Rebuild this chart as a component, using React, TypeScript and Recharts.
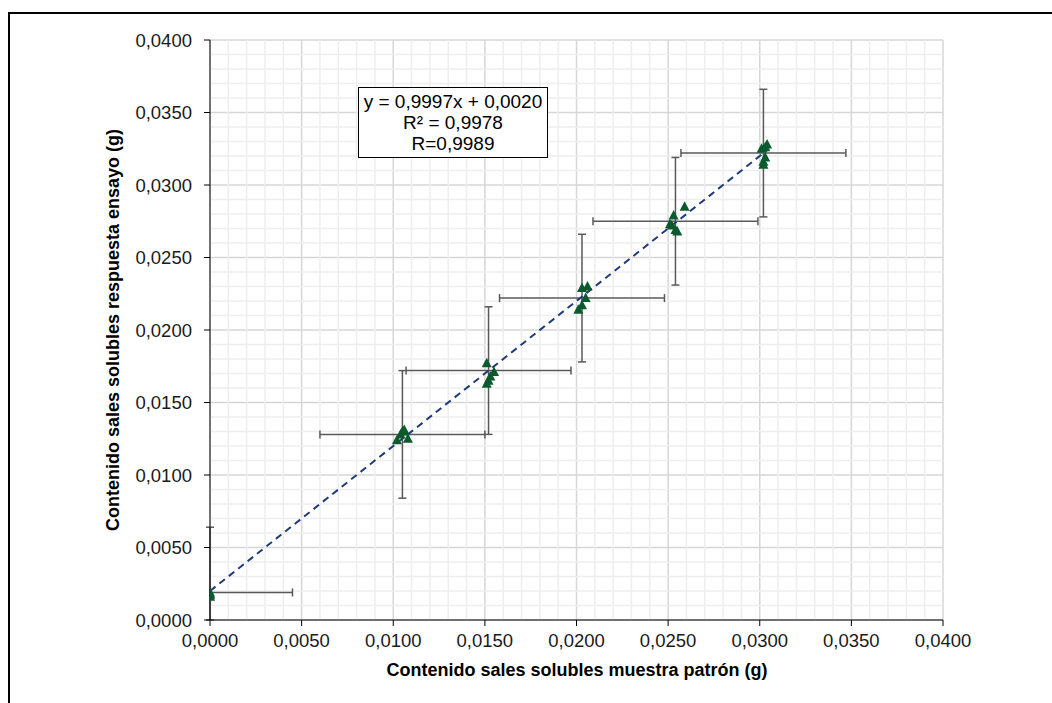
import React from 'react';
import { ScatterChart, Scatter, XAxis, YAxis, CartesianGrid, ReferenceLine, ErrorBar } from 'recharts';

// measured points (g): x = muestra patrón, y = respuesta ensayo
const sampleX = [
    0, 0, 0, 0,
    0.0105, 0.0104, 0.0102, 0.0108, 0.0106,
    0.0151, 0.0152, 0.0153, 0.0155, 0.0151,
    0.0203, 0.0206, 0.0205, 0.0203, 0.0201,
    0.0253, 0.0252, 0.0251, 0.0254, 0.0259, 0.0255,
    0.0301, 0.0304, 0.0303, 0.0303, 0.0302, 0.0302,
];
const sampleY = [
    0.0017, 0.0019, 0.0018, 0.0016,
    0.0130, 0.0128, 0.0124, 0.0125, 0.0131,
    0.0177, 0.0165, 0.0168, 0.0171, 0.0163,
    0.0229, 0.0230, 0.0222, 0.0217, 0.0214,
    0.0279, 0.0272, 0.0273, 0.0269, 0.0285, 0.0268,
    0.0325, 0.0328, 0.0326, 0.0319, 0.0316, 0.0314,
];

// cluster means with their uncertainty bars [lower, upper]
const meanX = [0, 0.0105, 0.0152, 0.0203, 0.0254, 0.0302];
const meanY = [0.0019, 0.0128, 0.0172, 0.0222, 0.0275, 0.0322];
const errX = [[0, 0.0045], [0.0045, 0.0045], [0.0045, 0.0045], [0.0045, 0.0045], [0.0045, 0.0045], [0.0045, 0.0045]];
const errY = [[0.0019, 0.0045], [0.0044, 0.0044], [0.0044, 0.0044], [0.0044, 0.0044], [0.0044, 0.0044], [0.0044, 0.0044]];

// linear trend endpoints
const trendX = [0, 0.0305];
const trendY = [0.0020, 0.0325];

const majorTicks = [0, 0.005, 0.01, 0.015, 0.02, 0.025, 0.03, 0.035, 0.04];
const minorTicks = [
    0.001, 0.002, 0.003, 0.004, 0.006, 0.007, 0.008, 0.009,
    0.011, 0.012, 0.013, 0.014, 0.016, 0.017, 0.018, 0.019,
    0.021, 0.022, 0.023, 0.024, 0.026, 0.027, 0.028, 0.029,
    0.031, 0.032, 0.033, 0.034, 0.036, 0.037, 0.038, 0.039,
];

const points = sampleX.map((x, i) => ({ x, y: sampleY[i] }));
const means = meanX.map((x, i) => ({ x, y: meanY[i], ex: errX[i], ey: errY[i] }));
const trend = trendX.map((x, i) => ({ x, y: trendY[i] }));

const fmt = (v: number) => v.toFixed(4).replace('.', ',');
const font = '"Liberation Sans", Arial, sans-serif';

const Triangle = (props: any) => {
    const { cx, cy } = props;
    if (cx == null || cy == null) return <g />;
    return <polygon points={`${cx},${cy - 5.5} ${cx - 5},${cy + 4} ${cx + 5},${cy + 4}`} fill="#0B5A2E" />;
};

const Empty = () => <g />;

const App: React.FC = () => {
    return (
        <div style={{ position: 'absolute', left: 0, top: 0, width: 1052, height: 703, overflow: 'hidden', background: '#fff', fontFamily: font }}>
            <div style={{ position: 'absolute', left: 8, top: 12, width: 1100, height: 800, borderTop: '2px solid #000', borderLeft: '2px solid #000' }} />
            <div style={{ position: 'absolute', left: 0, top: 0 }}>
                <ScatterChart width={1052} height={703} margin={{ top: 40, right: 109, bottom: 23, left: 100 }}>
                    {minorTicks.map(v => (
                        <ReferenceLine key={`mx${v}`} x={v} stroke="#EEEEEE" strokeWidth={1.5} />
                    ))}
                    {minorTicks.map(v => (
                        <ReferenceLine key={`my${v}`} y={v} stroke="#EEEEEE" strokeWidth={1.5} />
                    ))}
                    <CartesianGrid stroke="#D6D6D6" strokeWidth={1.5} />
                    <XAxis
                        type="number"
                        dataKey="x"
                        domain={[0, 0.04]}
                        ticks={majorTicks}
                        tickFormatter={fmt}
                        height={60}
                        stroke="#000"
                        tick={{ fill: '#1a1a1a', fontSize: 18.5, fontFamily: font }}
                        tickSize={6}
                        tickMargin={8}
                        allowDataOverflow
                    />
                    <YAxis
                        type="number"
                        dataKey="y"
                        domain={[0, 0.04]}
                        ticks={majorTicks}
                        tickFormatter={fmt}
                        width={110}
                        stroke="#000"
                        tick={{ fill: '#1a1a1a', fontSize: 18.5, fontFamily: font }}
                        tickSize={6}
                        tickMargin={12}
                        allowDataOverflow
                    />
                    <Scatter data={means} shape={Empty} isAnimationActive={false}>
                        <ErrorBar dataKey="ex" direction="x" width={4} stroke="#595959" strokeWidth={1.5} />
                        <ErrorBar dataKey="ey" direction="y" width={4} stroke="#595959" strokeWidth={1.5} />
                    </Scatter>
                    <Scatter
                        data={trend}
                        shape={Empty}
                        line={{ stroke: '#1F3A7A', strokeWidth: 2, strokeDasharray: '7 5' }}
                        isAnimationActive={false}
                    />
                    <Scatter data={points} shape={Triangle} isAnimationActive={false} />
                </ScatterChart>
            </div>
            <div style={{
                position: 'absolute', left: 358, top: 87, width: 190, height: 71,
                border: '1.5px solid #000', background: '#fff', textAlign: 'center',
                fontSize: 19, lineHeight: '21px', paddingTop: 3, boxSizing: 'border-box', color: '#000',
            }}>
                y = 0,9997x + 0,0020<br />R² = 0,9978<br />R=0,9989
            </div>
            <div style={{
                position: 'absolute', left: 113, top: 330, transform: 'translate(-50%, -50%) rotate(-90deg)',
                whiteSpace: 'nowrap', fontSize: 18, fontWeight: 'bold', color: '#000',
            }}>
                Contenido sales solubles respuesta ensayo (g)
            </div>
            <div style={{
                position: 'absolute', left: 577, top: 670, transform: 'translate(-50%, -50%)',
                whiteSpace: 'nowrap', fontSize: 18, fontWeight: 'bold', color: '#000',
            }}>
                Contenido sales solubles muestra patrón (g)
            </div>
        </div>
    );
};

export default App;
